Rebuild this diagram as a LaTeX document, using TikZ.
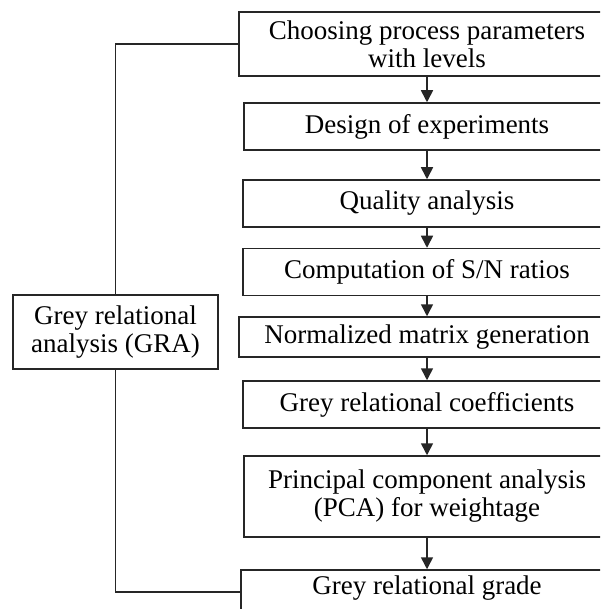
\documentclass[tikz,border=0pt]{standalone}
\usepackage{fontspec}
\setmainfont{Liberation Serif}
\usetikzlibrary{arrows.meta,positioning}
\tikzset{
  stepbox/.style={draw=black!85, line width=1.5pt, fill=white, align=center,
    inner sep=2pt, font=\fontsize{27}{28}\selectfont, text=black},
  arr/.style={draw=black!85, line width=1.6pt, -{Triangle[width=12pt,length=12pt]}},
  link/.style={draw=black!85, line width=1.5pt}
}
\begin{document}
\begin{tikzpicture}[x=1pt,y=-1pt]
\useasboundingbox (0,0) rectangle (600,609);
\clip (0,0) rectangle (600,609);
\fill[white] (0,0) rectangle (600,609);
% boxes centred at x=427
\node[stepbox, minimum width=376pt, minimum height=64pt] (b1) at (427,44) {Choosing process parameters\\with levels};
\node[stepbox, minimum width=366pt, minimum height=47pt] (b2) at (427,126.5) {Design of experiments};
\node[stepbox, minimum width=368pt, minimum height=47pt] (b3) at (427,203.5) {Quality analysis};
\node[stepbox, minimum width=368pt, minimum height=47pt] (b4) at (427,272) {Computation of S/N ratios};
\node[stepbox, minimum width=376pt, minimum height=40pt] (b5) at (427,337) {Normalized matrix generation};
\node[stepbox, minimum width=368pt, minimum height=47pt] (b6) at (427,404.5) {Grey relational coefficients};
\node[stepbox, minimum width=366pt, minimum height=81pt] (b7) at (427,496.5) {Principal component analysis\\(PCA) for weightage};
\node[stepbox, minimum width=372pt, minimum height=44pt, text depth=14pt, inner ysep=0pt] (b8) at (427,592) {Grey relational grade};
\node[stepbox, minimum width=205pt, minimum height=74pt] (gra) at (115.5,332) {Grey relational\\analysis (GRA)};
% arrows
\draw[arr] (b1) -- (b2);
\draw[arr] (b2) -- (b3);
\draw[arr] (b3) -- (b4);
\draw[arr] (b4) -- (b5);
\draw[arr] (b5) -- (b6);
\draw[arr] (b6) -- (b7);
\draw[arr] (b7) -- (b8);
% GRA links
\draw[link] (gra.north) |- (b1.west);
\draw[link] (gra.south) |- (b8.west);
\end{tikzpicture}
\end{document}
